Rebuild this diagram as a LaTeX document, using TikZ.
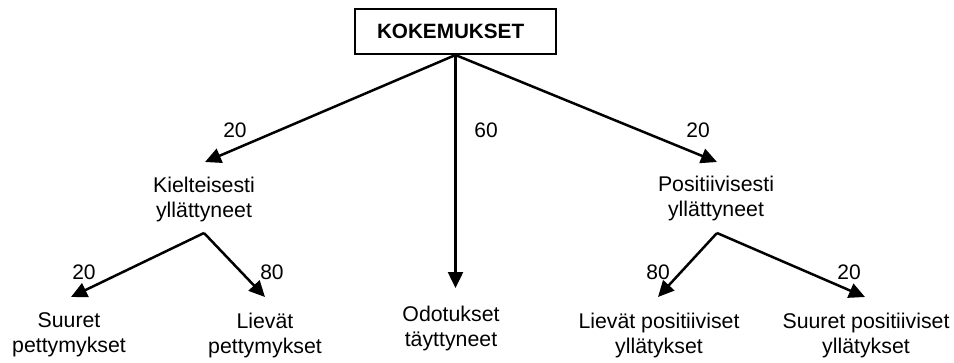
\documentclass[tikz,border=0pt]{standalone}
\usepackage{fontspec}
\setmainfont{Liberation Sans}
\usetikzlibrary{arrows.meta}
\begin{document}
\begin{tikzpicture}[x=1pt,y=-1pt,
  txt/.style={inner sep=0pt, align=center, font=\fontsize{21.3}{25}\selectfont},
  num/.style={inner sep=0pt, font=\fontsize{21}{25}\selectfont},
  topbox/.style={draw, line width=2.6pt, minimum width=201pt, minimum height=45pt,
    text width=157pt, align=left, inner xsep=22pt, inner ysep=0pt,
    font=\fontsize{20.7}{25}\selectfont\bfseries},
  arr/.style={line width=2.5pt, -{Triangle[length=16pt,width=15pt]}},
  ln/.style={line width=2.5pt}]
\useasboundingbox (0,0) rectangle (954,362);

\node[topbox] (kk) at (455.5,31.5) {KOKEMUKSET};

\node[txt] (kiel) at (204,199) {Kielteisesti\\yllättyneet};
\node[txt] (posi) at (716,198) {Positiivisesti\\yllättyneet};
\node[txt] (odot) at (451,328) {Odotukset\\täyttyneet};
\node[txt] (supe) at (69,335) {Suuret\\pettymykset};
\node[txt] (lipe) at (265,335) {Lievät\\pettymykset};
\node[txt] (lipo) at (659,335) {Lievät positiiviset\\yllätykset};
\node[txt] (supo) at (866,335) {Suuret positiiviset\\yllätykset};

\node[num] (n1) at (235,130) {20};
\node[num] (n2) at (486,130) {60};
\node[num] (n3) at (698,130) {20};
\node[num] (n4) at (84,272) {20};
\node[num] (n5) at (272,272) {80};
\node[num] (n6) at (658,272) {80};
\node[num] (n7) at (849,272) {20};

\coordinate (top) at (455.5,55);
\coordinate (tk) at (205,162);
\coordinate (to) at (455.5,288);
\coordinate (tp) at (717,162);
\coordinate (ak) at (204,233);
\coordinate (ap) at (717,233);
\coordinate (tsupe) at (71,297);
\coordinate (tlipe) at (265,297);
\coordinate (tlipo) at (658,297);
\coordinate (tsupo) at (865,297);

\draw[arr] (top) -- (tk);
\draw[arr] (top) -- (to);
\draw[arr] (top) -- (tp);
\draw[arr] (ak) -- (tsupe);
\draw[arr] (ak) -- (tlipe);
\draw[arr] (ap) -- (tlipo);
\draw[arr] (ap) -- (tsupo);
\end{tikzpicture}
\end{document}
